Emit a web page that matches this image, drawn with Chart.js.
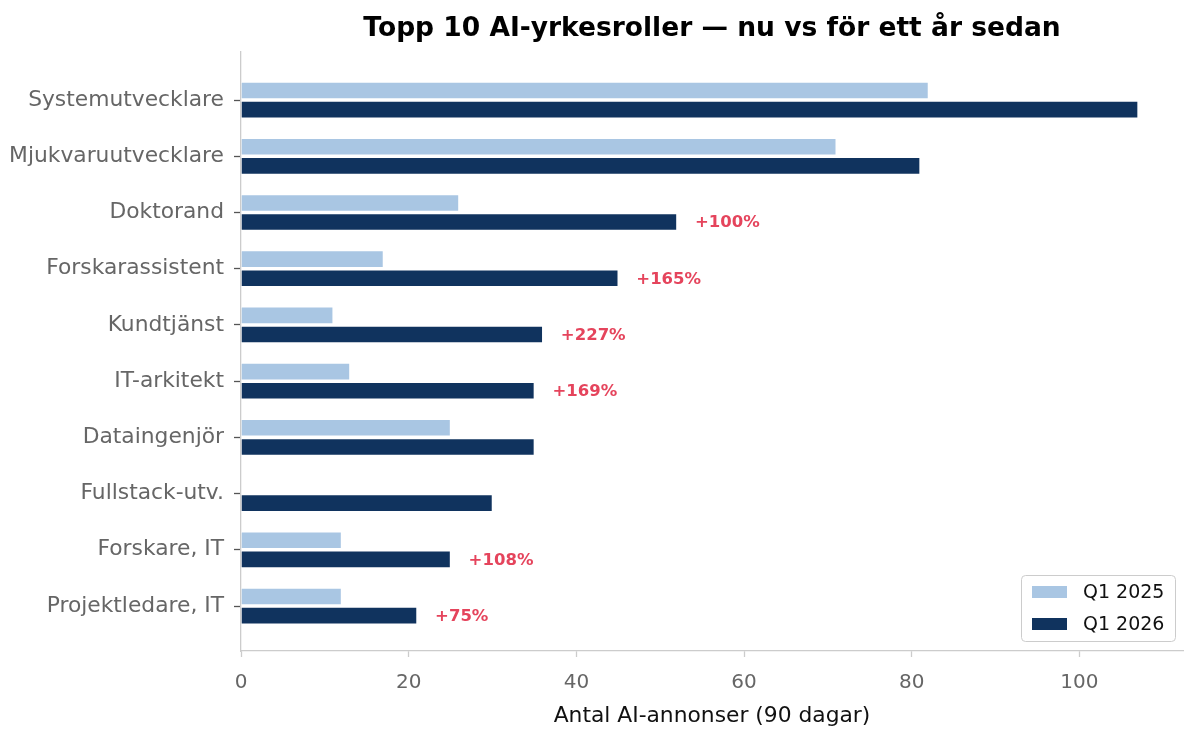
<!DOCTYPE html>
<html>
<head>
<meta charset="utf-8">
<script src="https://cdn.jsdelivr.net/npm/chart.js@4"></script>
<style>
  html, body { margin: 0; padding: 0; background: #fff; }
  #wrap { width: 1184px; height: 729px; }
</style>
</head>
<body>
<div id="wrap"><canvas id="c" width="1184" height="729"></canvas></div>
<script>
// data
const roles = ['Systemutvecklare', 'Mjukvaruutvecklare', 'Doktorand', 'Forskarassistent', 'Kundtjänst',
  'IT-arkitekt', 'Dataingenjör', 'Fullstack-utv.', 'Forskare, IT', 'Projektledare, IT'];
const q1_2025 = [82, 71, 26, 17, 11, 13, 25, null, 12, 12];
const q1_2026 = [107, 81, 52, 45, 36, 35, 35, 30, 25, 21];
const growth = ['', '', '+100%', '+165%', '+227%', '+169%', '', '', '+108%', '+75%'];
const xTicks = [0, 20, 40, 60, 80, 100];

const FONT = 'DejaVu Sans';

// red growth labels next to the dark bars
const growthLabels = {
  id: 'growthLabels',
  afterDatasetsDraw(chart) {
    const ctx = chart.ctx;
    const meta = chart.getDatasetMeta(1);
    ctx.save();
    ctx.font = 'bold 16.5px "' + FONT + '"';
    ctx.fillStyle = '#e5445c';
    ctx.textAlign = 'left';
    ctx.textBaseline = 'middle';
    meta.data.forEach((bar, i) => {
      if (!growth[i]) return;
      ctx.fillText(growth[i], bar.x + 18, bar.y + 1);
    });
    ctx.restore();
  }
};

// legend box in the lower right corner of the plot
const cornerLegend = {
  id: 'cornerLegend',
  afterDraw(chart) {
    const ctx = chart.ctx;
    const a = chart.chartArea;
    const w = 154, h = 66;
    const x = a.right - 8 - w, y = a.bottom - 10 - h;
    ctx.save();
    ctx.fillStyle = 'rgba(255,255,255,0.85)';
    ctx.strokeStyle = '#cccccc';
    ctx.lineWidth = 1;
    ctx.beginPath();
    ctx.roundRect(x + 0.5, y + 0.5, w, h, 4);
    ctx.fill();
    ctx.stroke();
    ctx.font = '19px "' + FONT + '"';
    ctx.textBaseline = 'middle';
    chart.data.datasets.forEach((ds, i) => {
      const cy = y + 17 + i * 32;
      ctx.fillStyle = ds.backgroundColor;
      ctx.fillRect(x + 11, cy - 6, 35, 12);
      ctx.fillStyle = '#111';
      ctx.fillText(ds.label, x + 62, cy + 1);
    });
    ctx.restore();
  }
};

new Chart(document.getElementById('c'), {
  type: 'bar',
  data: {
    datasets: [
      {
        label: 'Q1 2025',
        data: roles.map((r, i) => ({ x: q1_2025[i], y: i })),
        backgroundColor: '#a9c6e3',
        borderColor: '#ffffff',
        borderWidth: 0.8
      },
      {
        label: 'Q1 2026',
        data: roles.map((r, i) => ({ x: q1_2026[i], y: i })),
        backgroundColor: '#10335e',
        borderColor: '#ffffff',
        borderWidth: 0.8
      }
    ]
  },
  options: {
    indexAxis: 'y',
    responsive: false,
    animation: false,
    categoryPercentage: 0.68,
    barPercentage: 0.9,
    layout: { padding: { left: 0, right: 1, top: 0, bottom: 0 } },
    plugins: {
      legend: { display: false },
      tooltip: { enabled: false },
      title: {
        display: true,
        fullSize: false,
        text: 'Topp 10 AI-yrkesroller — nu vs för ett år sedan',
        color: '#000',
        font: { family: FONT, size: 26.5, weight: 'bold' },
        padding: { top: 13, bottom: 7.2 }
      }
    },
    scales: {
      x: {
        type: 'linear',
        min: 0,
        max: 112.35,
        afterBuildTicks: s => { s.ticks = xTicks.map(v => ({ value: v })); },
        afterFit: s => { s.height = 78; },
        border: { color: '#cccccc', width: 1.3 },
        grid: { drawOnChartArea: false, color: '#cccccc', tickLength: 6, tickWidth: 1.3 },
        ticks: { color: '#666666', font: { family: FONT, size: 20 }, padding: 14 },
        title: {
          display: true,
          text: 'Antal AI-annonser (90 dagar)',
          color: '#111',
          font: { family: FONT, size: 21.8 },
          padding: { top: 4, bottom: 0 }
        }
      },
      y: {
        type: 'linear',
        reverse: true,
        offset: false,
        min: -0.855,
        max: 9.8,
        afterBuildTicks: s => { s.ticks = roles.map((r, i) => ({ value: i })); },
        afterFit: s => { s.width = 241; },
        border: { color: '#cccccc', width: 1.3 },
        grid: { offset: false, drawOnChartArea: false, color: '#555555', tickColor: '#555555', tickLength: 7, tickWidth: 1.3 },
        ticks: {
          color: '#666666',
          font: { family: FONT, size: 21.8 },
          padding: 10,
          callback: v => roles[v]
        }
      }
    }
  },
  plugins: [growthLabels, cornerLegend]
});
</script>
</body>
</html>
